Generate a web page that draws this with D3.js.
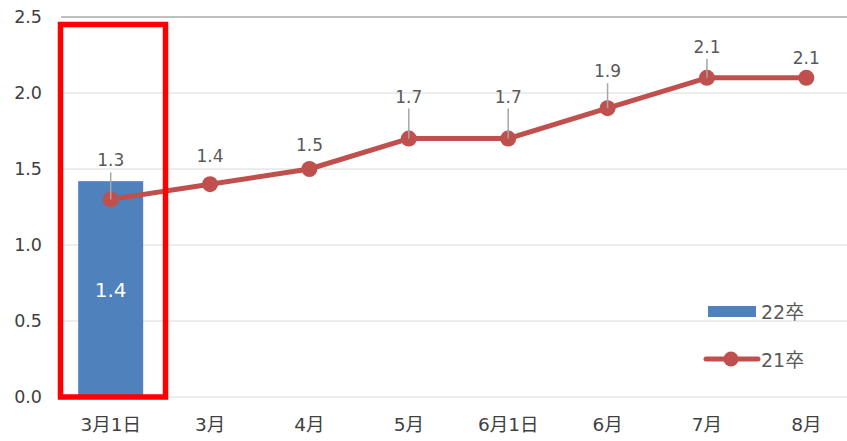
<!DOCTYPE html>
<html>
<head>
<meta charset="utf-8">
<script src="https://cdn.jsdelivr.net/npm/d3@7"></script>
<style>
body { margin: 0; background: #fff; }
svg { display: block; font-family: "DejaVu Sans", "Noto Sans CJK JP", sans-serif; }
</style>
</head>
<body>
<div id="chart"></div>
<script>
var categories = ['3月1日', '3月', '4月', '5月', '6月1日', '6月', '7月', '8月'];
var values21 = [1.3, 1.4, 1.5, 1.7, 1.7, 1.9, 2.1, 2.1];
var values22 = [1.42];
var yTicks = [0, 0.5, 1.0, 1.5, 2.0, 2.5];
// how far each 21卒 label was dragged above its point
var labelLift = [39, 28, 24, 42, 42, 37, 31, 20];

var width = 847, height = 441;
var svg = d3.select('#chart').append('svg')
    .attr('width', width).attr('height', height);

var x = d3.scaleBand().domain(categories).range([61, 856]).padding(0);
var y = d3.scaleLinear().domain([0, 2.5]).range([397, 17]);
var grey = '#595959';
var red = '#c0504d', blue = '#4f81bd';

// gridlines
svg.append('g').selectAll('line')
    .data(yTicks)
    .enter().append('line')
    .attr('x1', 61).attr('x2', width)
    .attr('y1', function (d) { return y(d); })
    .attr('y2', function (d) { return y(d); })
    .attr('stroke', function (d) { return d == 2.5 ? '#ababab' : '#d9d9d9'; })
    .attr('stroke-width', function (d) { return d == 2.5 ? 1.5 : 1.2; });

// y axis labels
svg.append('g').selectAll('text')
    .data(yTicks)
    .enter().append('text')
    .attr('x', 42)
    .attr('y', function (d) { return y(d); })
    .attr('dy', '0.35em')
    .attr('text-anchor', 'end')
    .attr('font-size', 17.5)
    .attr('fill', '#404040')
    .text(d3.format('.1f'));

// x axis labels
svg.append('g').selectAll('text')
    .data(categories)
    .enter().append('text')
    .attr('x', function (d) { return x(d) + x.bandwidth() / 2; })
    .attr('y', 425)
    .attr('dy', '0.35em')
    .attr('text-anchor', 'middle')
    .attr('font-size', 18.5)
    .attr('fill', '#404040')
    .text(function (d) { return d; });

// 22卒 bar
var barW = 65;
svg.append('g').selectAll('rect')
    .data(values22)
    .enter().append('rect')
    .attr('x', function (d, i) { return x(categories[i]) + (x.bandwidth() - barW) / 2; })
    .attr('y', function (d) { return y(d); })
    .attr('width', barW)
    .attr('height', function (d) { return y(0) - y(d); })
    .attr('fill', blue);

svg.append('g').selectAll('text')
    .data(values22)
    .enter().append('text')
    .attr('x', function (d, i) { return x(categories[i]) + x.bandwidth() / 2; })
    .attr('y', 290)
    .attr('dy', '0.35em')
    .attr('text-anchor', 'middle')
    .attr('font-size', 20)
    .attr('fill', '#fff')
    .text(d3.format('.1f'));

// 21卒 line
var cx = function (d, i) { return x(categories[i]) + x.bandwidth() / 2; };
var line = d3.line()
    .x(function (d, i) { return cx(d, i); })
    .y(function (d) { return y(d); });

svg.append('path')
    .datum(values21)
    .attr('d', line)
    .attr('fill', 'none')
    .attr('stroke', red)
    .attr('stroke-width', 5)
    .attr('stroke-linejoin', 'round');

// leader lines, only where the label sits far from its point
var leaders = svg.append('g');
values21.forEach(function (d, i) {
    if (labelLift[i] < 30) return;
    leaders.append('line')
        .attr('x1', cx(d, i)).attr('x2', cx(d, i))
        .attr('y1', y(d) - labelLift[i] + 12)
        .attr('y2', y(d) - 4)
        .attr('stroke', '#a6a6a6')
        .attr('stroke-width', 1.5);
});

svg.append('g').selectAll('circle')
    .data(values21)
    .enter().append('circle')
    .attr('cx', cx)
    .attr('cy', function (d) { return y(d); })
    .attr('r', 8)
    .attr('fill', red);

// leader tips show over the markers
values21.forEach(function (d, i) {
    if (labelLift[i] < 30) return;
    svg.append('line')
        .attr('x1', cx(d, i)).attr('x2', cx(d, i))
        .attr('y1', y(d) - 8)
        .attr('y2', y(d))
        .attr('stroke', '#a6a6a6')
        .attr('stroke-width', 1.5);
});

svg.append('g').selectAll('text')
    .data(values21)
    .enter().append('text')
    .attr('x', cx)
    .attr('y', function (d, i) { return y(d) - labelLift[i]; })
    .attr('dy', '0.35em')
    .attr('text-anchor', 'middle')
    .attr('font-size', 17)
    .attr('fill', grey)
    .text(d3.format('.1f'));

// highlight box
svg.append('rect')
    .attr('x', 60.5).attr('y', 24.5)
    .attr('width', 105).attr('height', 372.5)
    .attr('fill', 'none')
    .attr('stroke', '#ff0000')
    .attr('stroke-width', 5.5);

// legend
var legend = svg.append('g');
legend.append('rect')
    .attr('x', 708).attr('y', 306)
    .attr('width', 48).attr('height', 11)
    .attr('fill', blue);
legend.append('text')
    .attr('x', 761).attr('y', 312)
    .attr('dy', '0.35em')
    .attr('font-size', 19)
    .attr('fill', grey)
    .text('22卒');
legend.append('line')
    .attr('x1', 706).attr('x2', 758)
    .attr('y1', 359).attr('y2', 359)
    .attr('stroke', red)
    .attr('stroke-width', 5)
    .attr('stroke-linecap', 'round');
legend.append('circle')
    .attr('cx', 731).attr('cy', 359).attr('r', 7.5)
    .attr('fill', red);
legend.append('text')
    .attr('x', 761).attr('y', 360)
    .attr('dy', '0.35em')
    .attr('font-size', 19)
    .attr('fill', grey)
    .text('21卒');
</script>
</body>
</html>
